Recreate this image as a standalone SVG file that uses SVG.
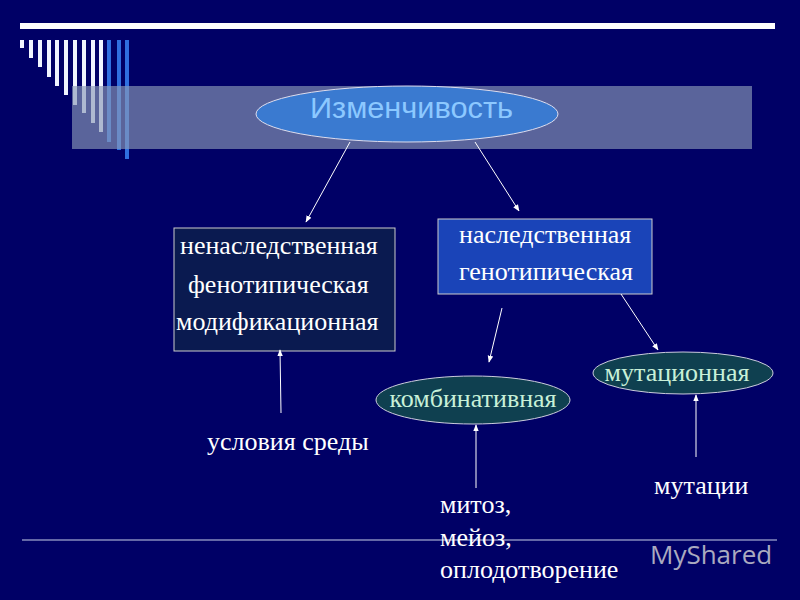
<svg xmlns="http://www.w3.org/2000/svg" width="800" height="600" viewBox="0 0 800 600">
<defs>
<style>
.t{font-family:"Liberation Serif",serif;font-size:26px;fill:#fff}
.g{font-family:"Liberation Serif",serif;font-size:26px;fill:#c8f0d8}
.c{stroke:#fff;stroke-width:1;fill:none;marker-end:url(#a)}
.w{fill:#f0f4ff}.b{fill:#2f6fe0}
</style>
<marker id="a" viewBox="0 0 10 10" refX="9" refY="5" markerWidth="7" markerHeight="7" orient="auto"><path d="M0,1 L10,5 L0,9 z" fill="#fff"/></marker>
</defs>
<rect width="800" height="600" fill="#000066"/>
<rect x="20" y="23" width="755" height="6" fill="#fff"/>
<g>
<rect class="w" x="20" y="40" width="4" height="8"/>
<rect class="w" x="29" y="40" width="4" height="18"/>
<rect class="w" x="38" y="40" width="4" height="27"/>
<rect class="w" x="47" y="40" width="4" height="37"/>
<rect class="w" x="55" y="40" width="4" height="46"/>
<rect class="w" x="64" y="40" width="4" height="55"/>
<rect class="w" x="73" y="40" width="4" height="65"/>
<rect class="w" x="82" y="40" width="4" height="73"/>
<rect class="w" x="91" y="40" width="4" height="83"/>
<rect class="w" x="99" y="40" width="4" height="92"/>
<rect class="b" x="107" y="40" width="4" height="102"/>
<rect class="b" x="117" y="40" width="4" height="110"/>
<rect class="b" x="125" y="40" width="4" height="119"/>
</g>
<rect x="72" y="86" width="680" height="63" fill="#8a9ab8" opacity="0.65"/>
<line x1="22" y1="540" x2="777" y2="540" stroke="#c8d0e8" stroke-width="1"/>
<g id="root"><ellipse cx="407" cy="114" rx="151" ry="28" fill="#3a7ad0" stroke="#dde" stroke-width="1"/>
<text x="310" y="118" font-family="Liberation Sans,sans-serif" font-size="30" fill="#8cc8ff" textLength="203" lengthAdjust="spacingAndGlyphs">Изменчивость</text></g>
<g id="nonher"><rect x="174" y="228" width="221" height="123" fill="#0a1a50" stroke="#ccc"/>
<text class="t" x="180" y="254">ненаследственная</text>
<text class="t" x="188" y="293">фенотипическая</text>
<text class="t" x="176" y="330">модификационная</text></g>
<g id="her"><rect x="438" y="219" width="214" height="75" fill="#1a44b8" stroke="#ccc"/>
<text class="t" x="459" y="243">наследственная</text>
<text class="t" x="459" y="280">генотипическая</text></g>
<g id="comb"><ellipse cx="473" cy="400" rx="97" ry="24" fill="#0f4050" stroke="#ccd" stroke-width="1"/>
<text class="g" x="473" y="407" text-anchor="middle">комбинативная</text></g>
<g id="mut"><ellipse cx="683" cy="373" rx="90" ry="21" fill="#0f4050" stroke="#ccd" stroke-width="1"/>
<text class="g" x="677" y="381" text-anchor="middle">мутационная</text></g>
<g id="l1"><text class="t" x="207" y="450">условия среды</text></g>
<g id="l2"><text class="t" x="440" y="513">митоз,</text><text class="t" x="440" y="546">мейоз,</text><text class="t" x="440" y="578">оплодотворение</text></g>
<g id="l3"><text class="t" x="654" y="494">мутации</text></g>
<g id="connectors">
<line class="c" x1="350" y1="142" x2="306" y2="222"/>
<line class="c" x1="475" y1="142" x2="519" y2="211"/>
<line class="c" x1="502" y1="308" x2="489" y2="362"/>
<line class="c" x1="621" y1="294" x2="658" y2="350"/>
<line class="c" x1="281" y1="413" x2="280" y2="350"/>
<line class="c" x1="476" y1="488" x2="476" y2="425"/>
<line class="c" x1="696" y1="457" x2="696" y2="395"/>
</g>
<text x="650" y="564" font-family="Open Sans,sans-serif" font-size="26" fill="#c8c8d0" opacity="0.85">MyShared</text>
</svg>
